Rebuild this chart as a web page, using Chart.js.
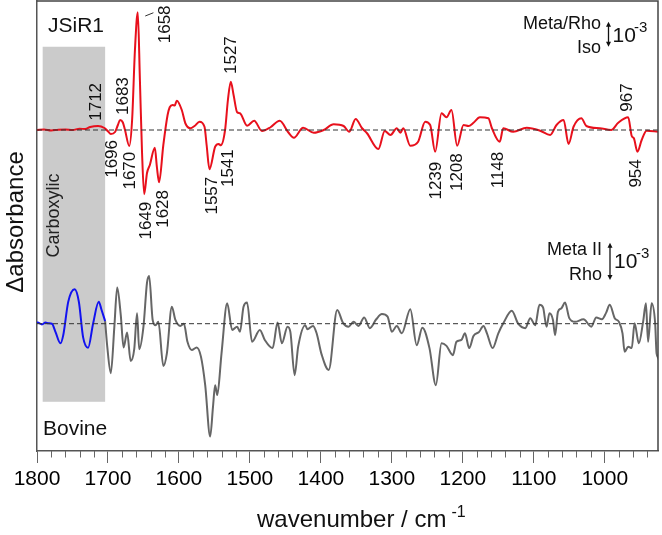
<!DOCTYPE html>
<html>
<head>
<meta charset="utf-8">
<script src="https://cdn.jsdelivr.net/npm/chart.js@4.4.1/dist/chart.umd.min.js"></script>
<style>
  html, body { margin: 0; padding: 0; background: #fff; }
</style>
</head>
<body>
<canvas id="ftirChart" width="662" height="535"></canvas>
<script>
// JSiR1 difference spectrum (Meta/Rho minus Iso), units of 10^-3
const jsirWn = [1800, 1790, 1780, 1770, 1760, 1750, 1740, 1732, 1725, 1714, 1705, 1700, 1696, 1690, 1686, 1683, 1679, 1676, 1670,
  1666, 1662, 1658, 1655, 1652, 1649, 1645, 1641, 1634, 1631, 1628, 1622, 1616, 1613, 1609, 1606, 1603, 1596, 1591, 1584, 1578,
  1571, 1564, 1561, 1557, 1549, 1544, 1541, 1535, 1531, 1527, 1523, 1518, 1514, 1504, 1494, 1483, 1471, 1458, 1446, 1438,
  1425, 1410, 1396, 1382, 1368, 1360, 1351, 1342, 1335, 1319, 1310, 1302, 1293, 1288, 1284, 1274, 1263, 1253, 1246, 1239,
  1230, 1223, 1216, 1208, 1199, 1192, 1185, 1176, 1164, 1159, 1148, 1143, 1129, 1110, 1091, 1077, 1068, 1058, 1051, 1044,
  1033, 1026, 1007, 991, 981, 967, 962, 959, 954, 948, 941, 925];
const jsirVal = [0, 0.02, -0.02, 0.01, 0.02, 0, 0.05, 0.04, 0.12, 0.16, 0.08, -0.05, -0.16, -0.08, 0.2, 0.4, 0.3, 0, -0.64,
  0.4, 3.2, 4.71, 2.0, -0.9, -2.57, -1.72, -1.4, -0.71, -1.5, -2.09, -0.6, 0.6, 0.91, 1.0, 0.98, 1.17, 0.8, 0.27, 0.07, 0.16,
  0.33, 0.13, -0.6, -1.57, -0.67, -0.56, -0.61, 0, 1.2, 1.93, 1.4, 0.71, 0.67, 0.17, 0.37, -0.04, 0.11, 0.37, -0.09, -0.31,
  0.09, -0.11, 0, 0.23, 0.16, -0.07, 0.44, 0.07, -0.13, -0.76, -0.04, -0.2, 0.07, -0.11, 0.07, -0.63, -0.47, 0.33, 0.2, -0.87,
  0.67, 0.51, 0.8, -0.63, 0.2, 0.16, 0.29, 0.51, 0.47, 0.07, -0.47, 0.07, -0.07, 0.09, -0.03, -0.2, 0.2, 0.4, -0.56, 0.13,
  0.47, 0.16, 0.07, 0, 0.29, 0.51, -0.24, -0.33, -0.87, -0.4, -0.03, -0.07];

// Bovine rhodopsin (Meta II minus Rho), carboxylic part in blue
const carbWn = [1800, 1799, 1793, 1788, 1784, 1779, 1774, 1767, 1763, 1756, 1747, 1741, 1735, 1728, 1721, 1713, 1709, 1704];
const carbVal = [0.03, 0.03, -0.02, 0.03, 0.01, 0, -0.22, -0.53, -0.31, 0.59, 0.93, 0.59, -0.37, -0.65, 0, 0.59, 0.37, 0.07];

const bovWn = [1704, 1701, 1696, 1691, 1687, 1682, 1678, 1673, 1668, 1663, 1659, 1656, 1650, 1645, 1642, 1637, 1633, 1629,
  1622, 1617, 1610, 1605, 1598, 1593, 1588, 1582, 1575, 1569, 1563, 1556, 1552, 1549, 1546, 1540, 1532, 1525, 1518, 1514,
  1509, 1504, 1497, 1486, 1479, 1468, 1461, 1455, 1447, 1443, 1437, 1432, 1422, 1419, 1411, 1406, 1399, 1389, 1377, 1369,
  1361, 1354, 1347, 1339, 1331, 1322, 1314, 1306, 1300, 1293, 1286, 1274, 1265, 1257, 1247, 1238, 1230, 1223, 1214, 1209,
  1202, 1197, 1191, 1185, 1177, 1171, 1166, 1158, 1150, 1143, 1131, 1122, 1112, 1105, 1098, 1092, 1087, 1082, 1078, 1073,
  1070, 1066, 1061, 1056, 1050, 1042, 1030, 1019, 1012, 1004, 998, 993, 986, 980, 975, 972, 967, 962, 958, 952, 946, 942,
  939, 934, 929, 927, 923, 921];
const bovVal = [0.07, -0.62, -1.34, -0.08, 0.98, 0.24, -0.64, -0.24, -1.01, -0.69, 0.28, -0.69, -0.08, 1.11, 1.29, 0.1, -0.04, 0.05,
  -1.14, -0.8, 0.46, 0.1, -0.06, 0, -0.49, -0.71, -0.64, -0.89, -1.66, -3.05, -2.24, -1.66, -1.93, -0.8, 0.55, -0.17, -0.08, -0.22,
  0.46, 0.57, -0.49, -0.17, -0.44, -0.66, 0.03, -0.53, -0.08, -0.22, -1.39, -0.62, -0.04, -0.15, -0.06, -0.26, -0.83, -1.25, 0.37, 0.03,
  -0.08, 0.05, -0.06, 0.17, -0.12, 0.12, 0.26, 0.19, -0.22, -0.06, -0.26, 0.39, -0.58, -0.11, -0.66, -1.66, -0.53, -0.6, -0.85, -0.49,
  -0.44, -0.26, -0.66, -0.33, -0.22, -0.06, -0.26, -0.66, -0.26, 0.01, 0.35, 0, -0.12, 0.15, -0.04, 0.51, 0.44, -0.08, 0.28, 0.1,
  -0.31, 0.32, 0.42, 0.57, 0.15, 0.05, 0.12, -0.08, 0.17, 0.12, 0.3, 0.51, 0.15, 0.05, -0.26, -0.76, -0.62, -0.66, 0.01, -0.53, 0.05, 0.55,
  -0.49, 0.55, 0.01, -0.8, -1.07, -2.11];

const xTickValues = [1800, 1700, 1600, 1500, 1400, 1300, 1200, 1100, 1000];
const carboxylicRange = [1792, 1704];
const peaksUp = [1712, 1683, 1658, 1527, 967];
const peaksDown = [1696, 1670, 1649, 1628, 1557, 1541, 1239, 1208, 1148, 954];

// where each peak label sits: [wavenumber of label centre, value at label end]
const labelPlace = {
  1712: [1716.5, 0.37], 1683: [1678.5, 0.6], 1658: [1619, 3.47], 1527: [1526.7, 2.24], 967: [968.8, 0.73],
  1696: [1694, -0.4], 1670: [1668.6, -0.87], 1649: [1646.1, -2.87], 1628: [1622.2, -2.4], 1557: [1553.6, -1.87],
  1541: [1530.2, -0.77], 1239: [1237.1, -1.27], 1208: [1207.1, -0.93], 1148: [1150.7, -0.87], 954: [955.2, -1.17]
};

const FONT = "'Liberation Sans', Arial, sans-serif";
const toXY = (xs, ys) => xs.map((v, i) => ({ x: v, y: ys[i] }));

function rotText(ctx, text, x, y, align) {
  ctx.save();
  ctx.translate(x, y);
  ctx.rotate(-Math.PI / 2);
  ctx.textAlign = align;
  ctx.textBaseline = 'middle';
  ctx.fillText(text, 0, 0);
  ctx.restore();
}

function arrow(ctx, x, yA, yB) {
  ctx.beginPath();
  ctx.moveTo(x, yA + 3);
  ctx.lineTo(x, yB - 3);
  ctx.stroke();
  ctx.beginPath();
  ctx.moveTo(x, yA); ctx.lineTo(x - 2.5, yA + 5); ctx.lineTo(x + 2.5, yA + 5); ctx.closePath();
  ctx.moveTo(x, yB); ctx.lineTo(x - 2.5, yB - 5); ctx.lineTo(x + 2.5, yB - 5); ctx.closePath();
  ctx.fill();
}

const decor = {
  id: 'decor',
  beforeDatasetsDraw(chart) {
    const { ctx, scales: { x, yTop, yBot } } = chart;
    ctx.save();
    const x0 = x.getPixelForValue(carboxylicRange[0]);
    const x1 = x.getPixelForValue(carboxylicRange[1]);
    const y0 = yTop.getPixelForValue(3.33);
    const y1 = yBot.getPixelForValue(-2.11);
    ctx.fillStyle = '#cbcbcb';
    ctx.fillRect(x0, y0, x1 - x0, y1 - y0);
    ctx.fillStyle = '#222';
    ctx.font = '18px ' + FONT;
    rotText(ctx, 'Carboxylic', x0 + 11, 215.5, 'center');
    ctx.restore();
  },
  afterDraw(chart) {
    const { ctx, chartArea: a, scales: { x, yTop, yBot } } = chart;
    ctx.save();
    // frame top + right
    ctx.strokeStyle = '#444';
    ctx.lineWidth = 1.5;
    ctx.beginPath();
    ctx.moveTo(a.left, a.top); ctx.lineTo(a.right, a.top); ctx.lineTo(a.right, a.bottom);
    ctx.stroke();
    // minor ticks
    ctx.strokeStyle = '#666';
    ctx.lineWidth = 1;
    for (let v = 940; v < 1800; v += 20) {
      if (v % 100 === 0) continue;
      const px = Math.round(x.getPixelForValue(v)) + 0.5;
      ctx.beginPath(); ctx.moveTo(px, a.bottom); ctx.lineTo(px, a.bottom + 6.5); ctx.stroke();
    }
    // axis titles
    ctx.fillStyle = '#111';
    ctx.font = '24px ' + FONT;
    rotText(ctx, 'Δabsorbance', 16, 222, 'center');
    ctx.textAlign = 'left';
    ctx.textBaseline = 'alphabetic';
    const main = 'wavenumber / cm';
    ctx.fillText(main, 257, 526.5);
    const w = ctx.measureText(main).width;
    ctx.font = '16px ' + FONT;
    ctx.fillText('-1', 257 + w + 5, 517);
    // panel names
    ctx.font = '21px ' + FONT;
    ctx.fillText('JSiR1', 48, 31.5);
    ctx.fillText('Bovine', 43, 435);
    // peak labels
    ctx.font = '17px ' + FONT;
    peaksUp.forEach(p => {
      const [wn, v] = labelPlace[p];
      rotText(ctx, String(p), x.getPixelForValue(wn), yTop.getPixelForValue(v), 'left');
    });
    peaksDown.forEach(p => {
      const [wn, v] = labelPlace[p];
      rotText(ctx, String(p), x.getPixelForValue(wn), yTop.getPixelForValue(v), 'right');
    });
    // leader for 1658
    ctx.strokeStyle = '#333';
    ctx.lineWidth = 1;
    ctx.beginPath();
    ctx.moveTo(x.getPixelForValue(1647.5), yTop.getPixelForValue(4.56));
    ctx.lineTo(x.getPixelForValue(1636), yTop.getPixelForValue(4.69));
    ctx.stroke();
    // scale bars (arrow = 10^-3)
    ctx.fillStyle = '#111';
    ctx.strokeStyle = '#111';
    ctx.lineWidth = 1.3;
    ctx.font = '18px ' + FONT;
    ctx.textAlign = 'right';
    ctx.fillText('Meta/Rho', 601, 28.5);
    ctx.fillText('Iso', 601, 52.5);
    ctx.fillText('Meta II', 602, 255);
    ctx.fillText('Rho', 602, 280);
    arrow(ctx, 608.5, yTop.getPixelForValue(4.33), yTop.getPixelForValue(3.33));
    arrow(ctx, 610, yBot.getPixelForValue(2.19), yBot.getPixelForValue(1.18));
    ctx.textAlign = 'left';
    ctx.font = '21px ' + FONT;
    ctx.fillText('10', 612.5, 41.7);
    ctx.fillText('10', 614, 268.3);
    ctx.font = '15px ' + FONT;
    ctx.fillText('-3', 634, 31.5);
    ctx.fillText('-3', 636, 258);
    ctx.restore();
  }
};

const zeroLine = (axis) => ({
  data: [{ x: 1800, y: 0 }, { x: 925, y: 0 }],
  yAxisID: axis,
  borderColor: '#333',
  borderWidth: 1,
  borderDash: [5, 3]
});

new Chart(document.getElementById('ftirChart').getContext('2d'), {
  type: 'line',
  data: {
    datasets: [
      zeroLine('yTop'),
      zeroLine('yBot'),
      { label: 'JSiR1', data: toXY(jsirWn, jsirVal), yAxisID: 'yTop', borderColor: '#e8101c', borderWidth: 2, cubicInterpolationMode: 'monotone' },
      { label: 'Bovine carboxylic', data: toXY(carbWn, carbVal), yAxisID: 'yBot', borderColor: '#1212f0', borderWidth: 2, cubicInterpolationMode: 'monotone' },
      { label: 'Bovine', data: toXY(bovWn, bovVal), yAxisID: 'yBot', borderColor: '#666666', borderWidth: 2, cubicInterpolationMode: 'monotone' }
    ]
  },
  options: {
    responsive: false,
    animation: false,
    layout: { padding: { top: 1, right: 4, left: 0, bottom: 0 } },
    elements: { point: { radius: 0 } },
    plugins: { legend: { display: false }, tooltip: { enabled: false } },
    scales: {
      x: {
        type: 'linear',
        reverse: true,
        min: 925,
        max: 1800,
        afterBuildTicks: s => { s.ticks = xTickValues.map(v => ({ value: v })); },
        ticks: { color: '#000', font: { family: FONT, size: 21 }, padding: 4, maxRotation: 0, autoSkip: false, callback: v => String(v) },
        grid: { display: true, drawOnChartArea: false, drawTicks: true, tickLength: 12, color: '#666', lineWidth: 1 },
        border: { display: true, color: '#555', width: 1.5 },
        afterFit: s => { s.height = 84; }
      },
      yTop: {
        type: 'linear',
        position: 'left',
        min: -12.84,
        max: 5.16,
        ticks: { display: false },
        grid: { display: false },
        border: { display: true, color: '#555', width: 1.5 },
        afterFit: s => { s.width = 37; }
      },
      yBot: {
        type: 'linear',
        position: 'left',
        display: false,
        min: -3.44,
        max: 8.72
      }
    }
  },
  plugins: [decor]
});
</script>
</body>
</html>
